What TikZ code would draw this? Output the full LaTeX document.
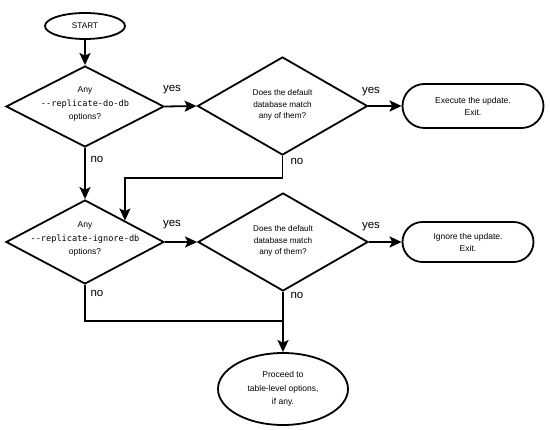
\documentclass[tikz,border=0pt]{standalone}
\usepackage{fontspec}
\setmainfont{Liberation Sans}
\setmonofont{DejaVu Sans Mono}
\usetikzlibrary{shapes.geometric,shapes.misc,arrows.meta,calc}
\tikzset{
  base/.style={draw=black, line width=1.8pt, inner sep=0pt},
  dec/.style={base, diamond, minimum width=#1},
  dtext/.style={align=center, font=\fontsize{8.5}{13}\selectfont},
  term/.style={base, rounded rectangle, align=center, font=\fontsize{8.5}{12}\selectfont},
  oval/.style={base, ellipse, align=center, font=\fontsize{8.5}{13.5}\selectfont},
  flow/.style={line width=1.8pt, -{Stealth[length=12pt,width=11pt,inset=2.5pt]}},
  plain/.style={line width=1.8pt},
  lab/.style={font=\fontsize{11.5}{12}\selectfont, inner sep=0pt},
  opt/.style={font=\fontsize{8.6}{10}\ttfamily}
}
\begin{document}
\begin{tikzpicture}[x=1pt,y=-1pt]
\useasboundingbox (0,0) rectangle (550,430);
\fill[white] (0,0) rectangle (550,430);

\node[oval, minimum width=80pt, minimum height=26pt, font=\fontsize{8.2}{10}\selectfont] (start) at (85,26) {START};

\node[dec=158pt, minimum height=81pt] (d1) at (85,106.5) {};
\node[dtext] (d1t) at (85,104) {Any\\[1pt]{\fontsize{8.6}{10}\ttfamily --replicate-do-db}\\options?};

\node[dec=170pt, minimum height=98pt] (d2) at (282.5,106) {};
\node[dtext, font=\fontsize{8.2}{11.5}\selectfont] (d2t) at (282.5,105) {Does the default\\database match\\any of them?};

\node[term, minimum width=141pt, minimum height=44pt] (t1) at (473,106) {Execute the update.\\Exit.};

\node[dec=158pt, minimum height=84pt] (d3) at (85,242) {};
\node[dtext] (d3t) at (85,239) {Any\\[1pt]{\fontsize{8.6}{10}\ttfamily --replicate-ignore-db}\\options?};

\node[dec=170pt, minimum height=98pt] (d4) at (283,242) {};
\node[dtext, font=\fontsize{8.2}{11.5}\selectfont] (d4t) at (283,241) {Does the default\\database match\\any of them?};

\node[term, minimum width=131pt, minimum height=40pt] (t2) at (468,242) {Ignore the update.\\Exit.};

\node[oval, minimum width=130pt, minimum height=72pt] (fin) at (283,389) {Proceed to\\table-level options,\\if any.};

% connectors
\draw[flow] (start) -- (d1);
\draw[flow] (d1.east) -- (d2.west);
\draw[flow] (d2.east) -- (t1.west);
\draw[flow] (d1.south) -- (d3.north);
\coordinate (j1) at ($(d3.north)!0.5!(d3.east)$);
\coordinate (k1) at (282.5,178);
\draw[flow] (d2.south) -- (k1) -| (j1);
\draw[flow] (d3.east) -- (d4.west);
\draw[flow] (d4.east) -- (t2.west);
\draw[flow] (d4.south) -- (fin.north);
\coordinate (k2) at (283,321);
\draw[plain] (d3.south) |- (k2);

% labels
\node[lab] (y1) at (172,90) {yes};
\node[lab] (y2) at (371,92) {yes};
\node[lab] (y3) at (172,225) {yes};
\node[lab] (y4) at (371,227) {yes};
\node[lab] (n1) at (97,159) {no};
\node[lab] (n2) at (297,161) {no};
\node[lab] (n3) at (97,293) {no};
\node[lab] (n4) at (297,295) {no};
\end{tikzpicture}
\end{document}
